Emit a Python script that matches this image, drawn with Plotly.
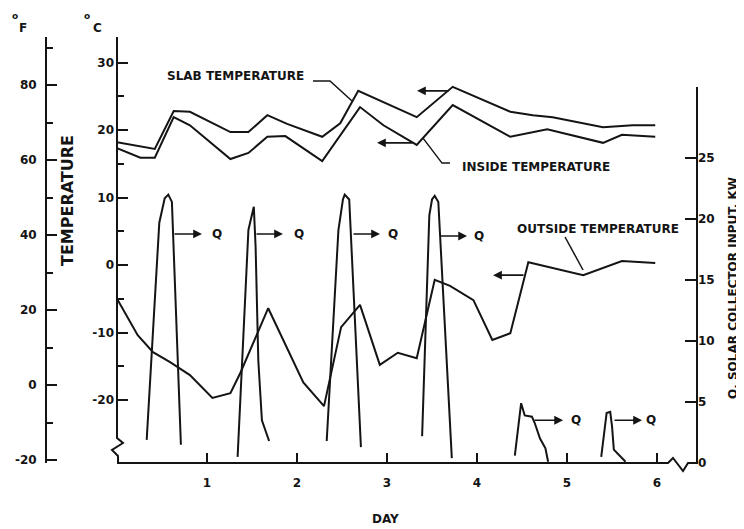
import plotly.graph_objects as go

# ---------------- data ----------------
slab_day  = [0.0, 0.42, 0.63, 0.81, 1.26, 1.46, 1.67, 1.89, 2.28, 2.48, 2.68, 3.33, 3.73, 4.37, 4.62, 4.84, 5.40, 5.73, 5.98]
slab_temp = [18.2, 17.2, 22.8, 22.7, 19.7, 19.7, 22.2, 20.9, 19.0, 21.0, 25.8, 21.9, 26.4, 22.7, 22.2, 21.9, 20.4, 20.7, 20.7]

inside_day  = [0.0, 0.26, 0.42, 0.63, 0.81, 1.26, 1.46, 1.67, 1.87, 2.28, 2.70, 2.96, 3.33, 3.73, 4.37, 4.78, 5.40, 5.61, 5.98]
inside_temp = [17.3, 15.9, 15.9, 21.9, 20.7, 15.7, 16.6, 19.0, 19.1, 15.4, 23.4, 20.7, 17.8, 23.7, 19.0, 20.1, 18.1, 19.3, 19.0]

outside_day  = [0.0, 0.23, 0.40, 0.59, 0.81, 1.06, 1.26, 1.37, 1.68, 2.07, 2.30, 2.49, 2.70, 2.92, 3.12, 3.33, 3.53, 3.70, 3.96, 4.17, 4.37, 4.57, 5.18, 5.61, 5.98]
outside_temp = [-5.0, -10.4, -12.9, -14.4, -16.3, -19.7, -19.0, -16.0, -6.4, -17.4, -20.9, -9.2, -5.9, -14.8, -13.0, -13.8, -2.2, -3.1, -5.2, -11.1, -10.1, 0.4, -1.5, 0.6, 0.3]

# solar collector input Q (kW), one list per daily peak
q1_day = [0.33, 0.47, 0.53, 0.57, 0.61, 0.71]
q1_kw  = [1.9, 19.7, 21.7, 22.0, 21.4, 1.5]
q2_day = [1.34, 1.46, 1.52, 1.54, 1.57, 1.61, 1.69]
q2_kw  = [0.5, 19.1, 21.0, 17.7, 8.4, 3.5, 1.8]
q3_day = [2.33, 2.46, 2.51, 2.53, 2.58, 2.71]
q3_kw  = [1.8, 19.1, 21.6, 22.0, 21.6, 1.3]
q4_day = [3.39, 3.47, 3.50, 3.53, 3.57, 3.72]
q4_kw  = [2.2, 20.3, 21.6, 21.9, 21.4, 0.4]
q5_day = [4.42, 4.49, 4.53, 4.61, 4.64, 4.70, 4.76, 4.79]
q5_kw  = [0.6, 4.9, 3.9, 3.8, 3.3, 2.0, 1.2, 0.1]
q6_day = [5.38, 5.44, 5.48, 5.50, 5.52, 5.65]
q6_kw  = [0.5, 4.1, 4.2, 3.0, 1.1, 0.1]

day_ticks = [1, 2, 3, 4, 5, 6]
c_ticks = [-20, -10, 0, 10, 20, 30]
c_minor = [-15, -5, 5, 15, 25]
f_ticks = [-20, 0, 20, 40, 60, 80]
f_minor = [-10, 10, 30, 50, 70, 90]
q_ticks = [0, 5, 10, 15, 20, 25]

# ---------------- layout geometry ----------------
# the page body has an 8px margin, so the figure is drawn 8px in from the window corner
OFF = 8
W, H = 744 - OFF, 529 - OFF
ML, MT = 46 - OFF, 37 - OFF
MR, MB = 744 - 697, 529 - 463
PW, PH = W - ML - MR, H - MT - MB
C_RANGE = [-29.33, 33.78]
F_RANGE = [C_RANGE[0] * 1.8 + 32, C_RANGE[1] * 1.8 + 32]
Q_RANGE = [0, 34.92]
X_RANGE = [0, 6.444]
X_DOM0 = (117 - 46) / PW


def px(x):
    # window pixel -> paper fraction
    return (x - OFF - ML) / PW


def py(y):
    return (MT + PH - (y - OFF)) / PH


def ppath(pts):
    return "M " + " L ".join(f"{px(a):.5f},{py(b):.5f}" for a, b in pts)


def txt(v):
    return [str(t) for t in v]


INK = "#141414"
FONT = "DejaVu Sans"
LW = 2

fig = go.Figure()

line_style = dict(color=INK, width=LW)
fig.add_trace(go.Scatter(x=slab_day, y=slab_temp, mode="lines", line=line_style,
                         name="Slab temperature", yaxis="y"))
fig.add_trace(go.Scatter(x=inside_day, y=inside_temp, mode="lines", line=line_style,
                         name="Inside temperature", yaxis="y"))
fig.add_trace(go.Scatter(x=outside_day, y=outside_temp, mode="lines", line=line_style,
                         name="Outside temperature", yaxis="y"))

q_x, q_y = [], []
for dd, qq in [(q1_day, q1_kw), (q2_day, q2_kw), (q3_day, q3_kw),
               (q4_day, q4_kw), (q5_day, q5_kw), (q6_day, q6_kw)]:
    q_x += dd + [None]
    q_y += qq + [None]
fig.add_trace(go.Scatter(x=q_x, y=q_y, mode="lines", line=line_style,
                         name="Q, solar collector input", yaxis="y2", connectgaps=False))

tickfont = dict(family=FONT, size=12, color=INK, weight="bold")

fig.update_layout(
    width=W, height=H,
    margin=dict(l=ML, r=MR, t=MT, b=MB, autoexpand=False),
    paper_bgcolor="white", plot_bgcolor="white",
    showlegend=False,
    xaxis=dict(domain=[X_DOM0, 1], range=X_RANGE, showgrid=False, zeroline=False,
               showline=False, ticks="inside", ticklen=10, tickwidth=2, tickcolor=INK,
               tickmode="array", tickvals=day_ticks, ticktext=txt(day_ticks),
               tickfont=tickfont, ticklabelstandoff=11),
    yaxis=dict(range=C_RANGE, showgrid=False, zeroline=False, showline=False,
               ticks="inside", ticklen=11, tickwidth=2, tickcolor=INK,
               tickmode="array", tickvals=c_ticks, ticktext=txt(c_ticks), tickfont=tickfont,
               ticklabelstandoff=2,
               minor=dict(tickmode="array", tickvals=c_minor, ticks="inside",
                          ticklen=7, tickwidth=2, tickcolor=INK, showgrid=False)),
    yaxis2=dict(range=Q_RANGE, overlaying="y", side="right", anchor="x",
                showgrid=False, zeroline=False, showline=False,
                ticks="inside", ticklen=12, tickwidth=2, tickcolor=INK,
                tickmode="array", tickvals=q_ticks, ticktext=txt(q_ticks), tickfont=tickfont),
    yaxis3=dict(range=F_RANGE, overlaying="y", anchor="free", position=0, side="left",
                showgrid=False, zeroline=False, showline=True, linewidth=2, linecolor=INK,
                ticks="inside", ticklen=10, tickwidth=2, tickcolor=INK,
                tickmode="array", tickvals=f_ticks, ticktext=txt(f_ticks), tickfont=tickfont,
                ticklabelstandoff=6,
                minor=dict(tickmode="array", tickvals=f_minor, ticks="inside",
                           ticklen=6, tickwidth=2, tickcolor=INK, showgrid=False)),
)
# dummy trace so yaxis3 renders
fig.add_trace(go.Scatter(x=[None], y=[None], yaxis="y3", showlegend=False, hoverinfo="skip"))

shapes = []
# left C axis with break, x axis with break, right Q axis
axis_pts = [(117, 37), (117, 438), (123, 443), (112, 450), (118, 456), (118, 463),
            (668, 463), (673, 458), (683, 471), (688, 463), (697, 463), (697, 87)]
shapes.append(dict(type="path", xref="paper", yref="paper", path=ppath(axis_pts),
                   line=dict(color=INK, width=LW), fillcolor="rgba(0,0,0,0)"))
# leader lines for labels
shapes.append(dict(type="path", xref="x", yref="y",
                   path="M 2.178,27.26 L 2.367,27.26 L 2.611,24.3",
                   line=dict(color=INK, width=1.5)))
shapes.append(dict(type="path", xref="x", yref="y",
                   path="M 3.70,15.1 L 3.611,15.1 L 3.40,18.8",
                   line=dict(color=INK, width=1.5)))
shapes.append(dict(type="path", xref="x", yref="y",
                   path="M 4.978,4.15 L 5.178,-0.74",
                   line=dict(color=INK, width=1.5)))
fig.update_layout(shapes=shapes)

ann = []
lab = dict(family=FONT, size=12, color=INK, weight="bold")
C = dict(xanchor="center", yanchor="middle")
ann.append(dict(x=1.322, y=28.0, xref="x", yref="y", text="SLAB TEMPERATURE",
                showarrow=False, font=lab, **C))
ann.append(dict(x=4.65, y=14.5, xref="x", yref="y", text="INSIDE TEMPERATURE",
                showarrow=False, font=lab, **C))
ann.append(dict(x=5.339, y=5.33, xref="x", yref="y", text="OUTSIDE TEMPERATURE",
                showarrow=False, font=lab, **C))

# left-pointing arrows
for (x0, x1, yy) in [(3.70, 3.333, 25.8), (3.30, 2.889, 18.1), (4.533, 4.178, -1.5)]:
    ann.append(dict(x=x1, y=yy, ax=x0, ay=yy, xref="x", yref="y", axref="x", ayref="y",
                    text="", showarrow=True, arrowhead=2, arrowsize=1.1, arrowwidth=1.6,
                    arrowcolor=INK, standoff=0, startstandoff=0))
# Q arrows
for (x0, x1, yy, xq) in [(0.622, 0.944, 4.6, 1.11), (1.533, 1.844, 4.6, 2.02),
                         (2.611, 2.922, 4.6, 3.067), (3.578, 3.889, 4.3, 4.022),
                         (4.622, 4.956, -23.0, 5.10), (5.511, 5.833, -23.0, 5.93)]:
    ann.append(dict(x=x1, y=yy, ax=x0, ay=yy, xref="x", yref="y", axref="x", ayref="y",
                    text="", showarrow=True, arrowhead=2, arrowsize=1.1, arrowwidth=1.6,
                    arrowcolor=INK, standoff=0, startstandoff=0))
    ann.append(dict(x=xq, y=yy, xref="x", yref="y", text="Q", showarrow=False, font=lab, **C))

# axis titles and units
ann.append(dict(x=px(67), y=py(201), xref="paper", yref="paper", text="TEMPERATURE",
                textangle=-90, showarrow=False, **C,
                font=dict(family=FONT, size=16, color=INK, weight="bold")))
ann.append(dict(x=px(733), y=py(288), xref="paper", yref="paper",
                text="Q, SOLAR COLLECTOR INPUT, KW", textangle=-90, showarrow=False, **C,
                font=dict(family=FONT, size=12, color=INK, weight="bold")))
ann.append(dict(x=px(385), y=py(519), xref="paper", yref="paper", text="DAY",
                showarrow=False, **C,
                font=dict(family=FONT, size=12, color=INK, weight="bold")))
for (xo, xl, letter) in [(15, 23, "F"), (87, 97, "C")]:
    ann.append(dict(x=px(xo), y=py(16), xref="paper", yref="paper", text="o",
                    showarrow=False, **C,
                    font=dict(family=FONT, size=9, color=INK, weight="bold")))
    ann.append(dict(x=px(xl), y=py(28), xref="paper", yref="paper", text=letter,
                    showarrow=False, **C,
                    font=dict(family=FONT, size=12, color=INK, weight="bold")))
fig.update_layout(annotations=ann)

fig.write_html("out.html")
